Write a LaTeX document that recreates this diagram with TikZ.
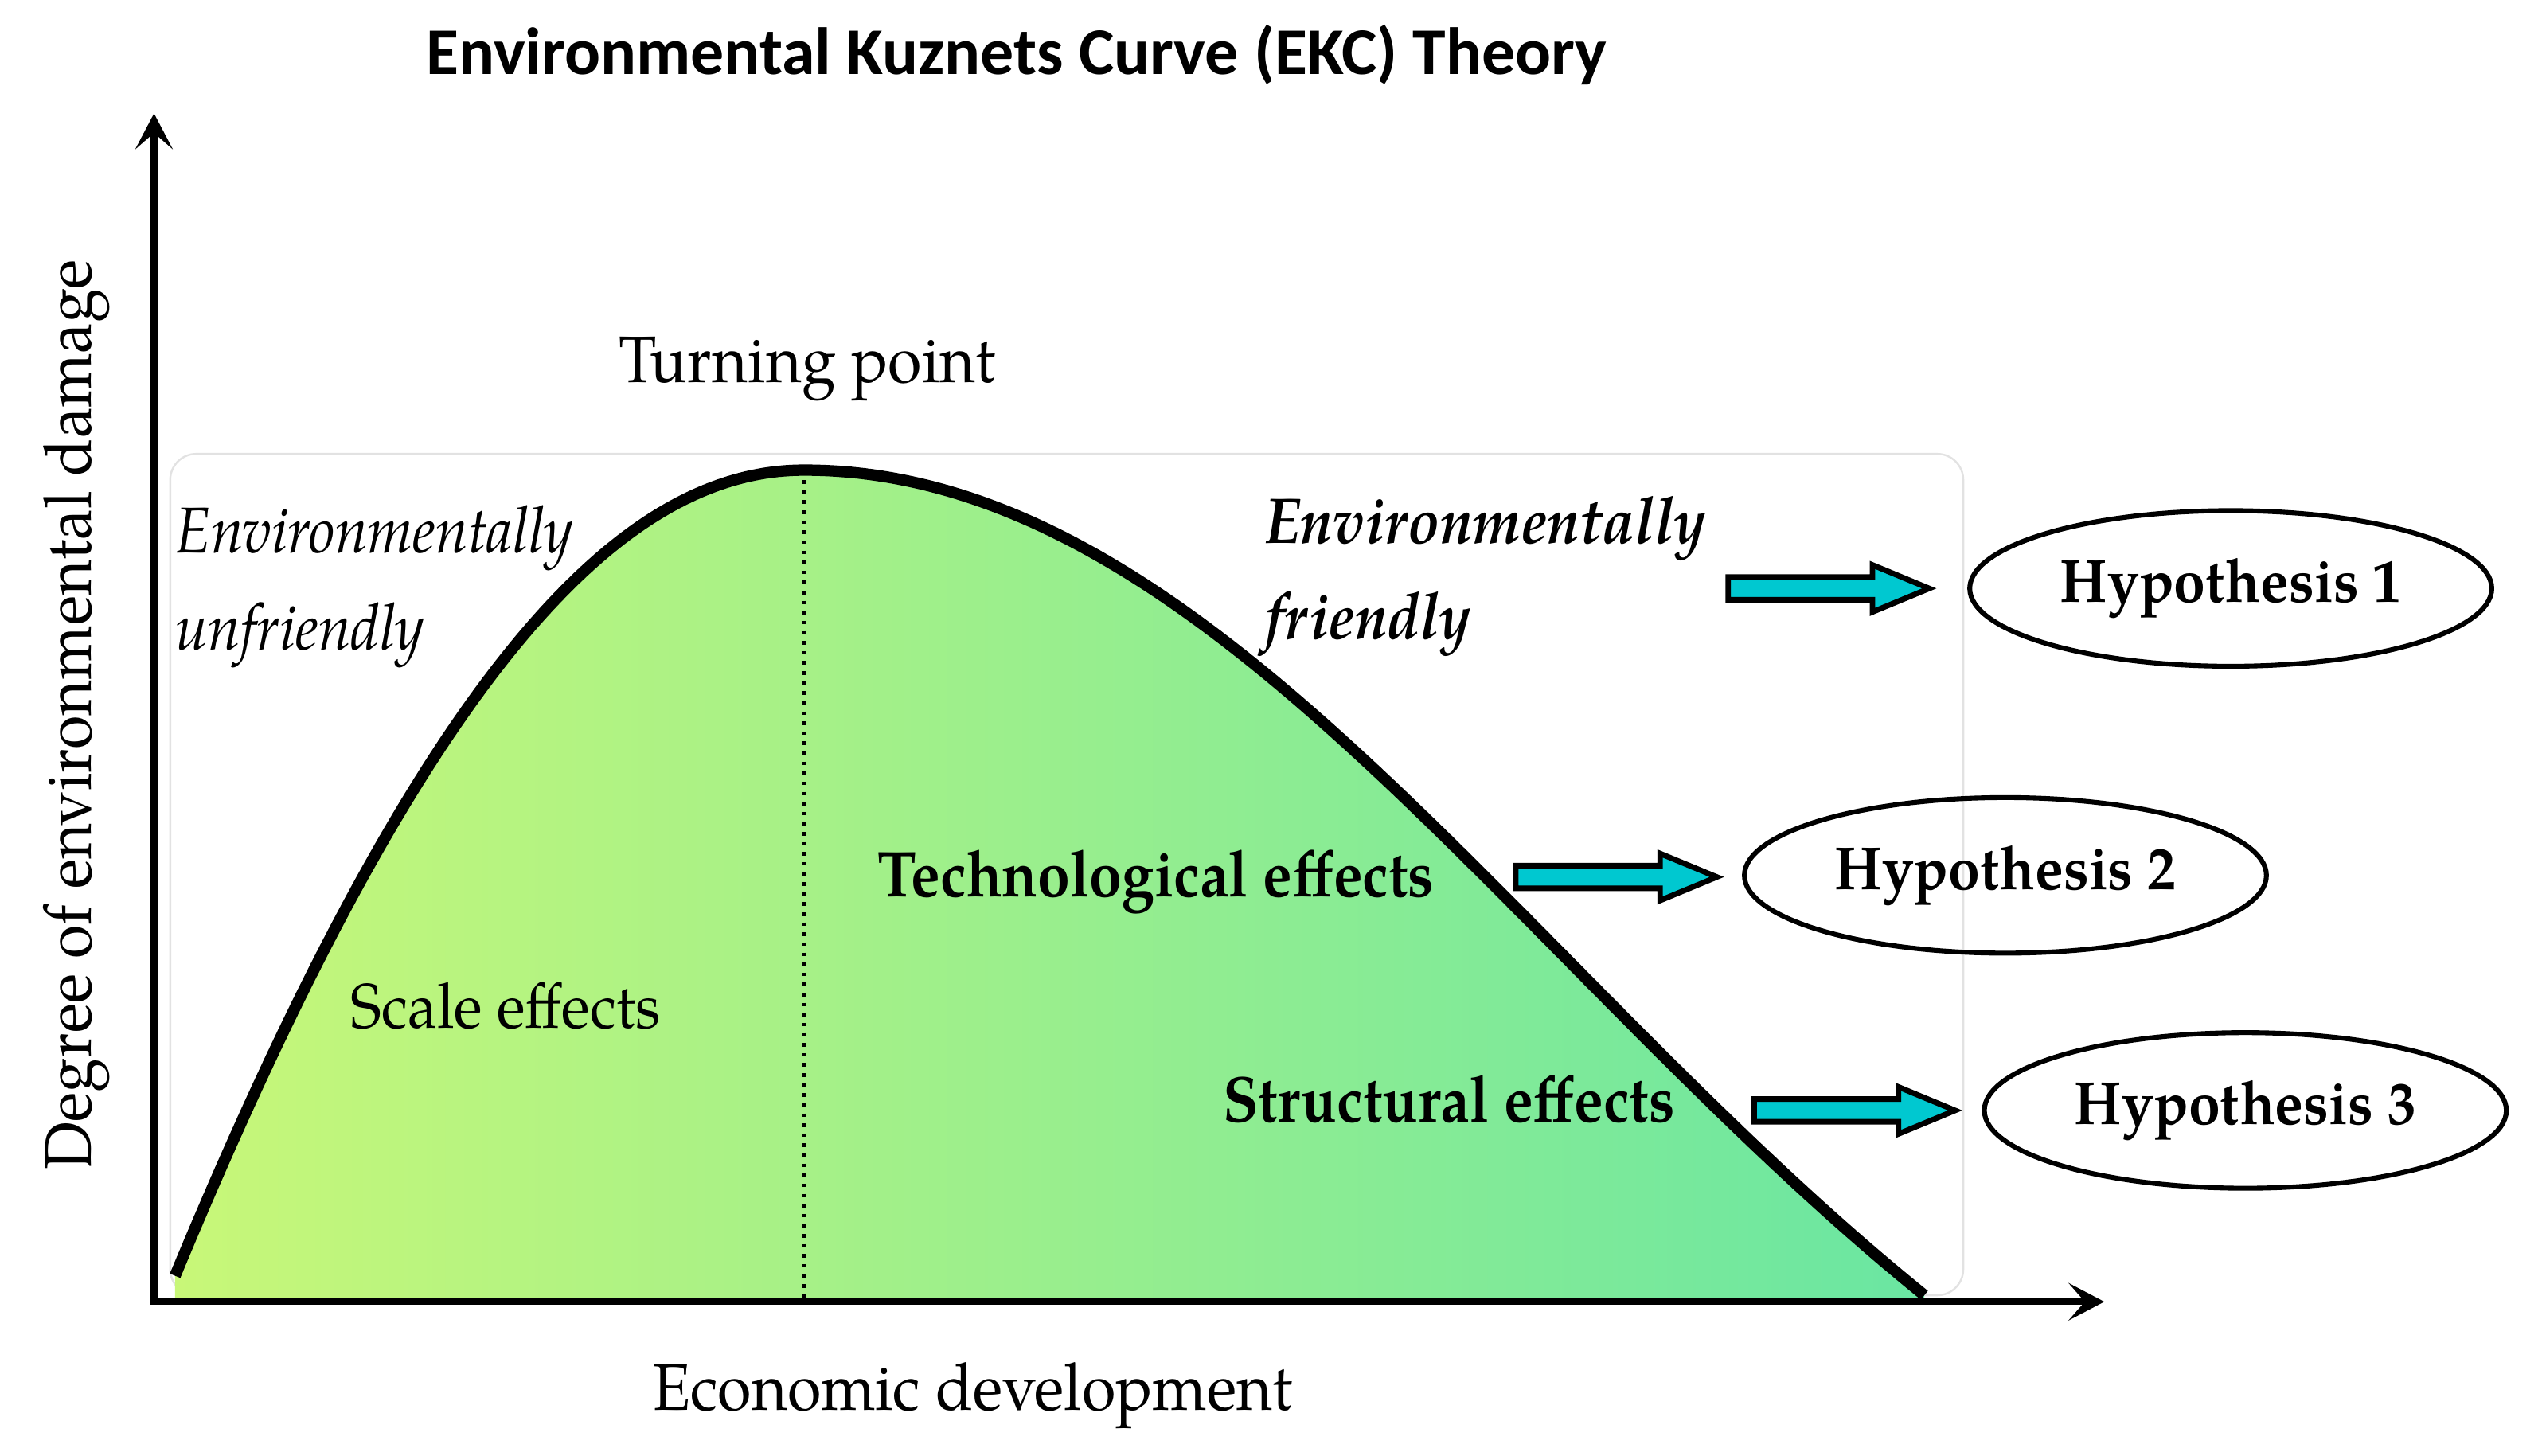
\documentclass[tikz,border=0pt]{standalone}
\usepackage{fontspec}
\setmainfont{TeX Gyre Pagella}
\newfontfamily\regf[FakeStretch=0.935]{TeX Gyre Pagella}
\newfontfamily\narf[FakeStretch=0.9]{TeX Gyre Pagella}
\newfontfamily\titlefont{Carlito}
\usetikzlibrary{shapes.geometric,arrows.meta}
\definecolor{limeL}{HTML}{C8F778}
\definecolor{greenM}{HTML}{A8F190}
\definecolor{greenR}{HTML}{6AE6A2}
\definecolor{arrowcyan}{HTML}{00C8D0}
\definecolor{framegray}{HTML}{E2E2E2}
\begin{document}
\begin{tikzpicture}[x=0.5pt,y=-0.5pt,
  txt/.style={font=\regf\fontsize{20.3}{24}\selectfont, inner sep=0pt},
  emtxt/.style={font=\narf\fontsize{20}{24}\selectfont, inner sep=0pt},
  titletxt/.style={font=\titlefont\bfseries\fontsize{20.6}{24}\selectfont, inner sep=0pt},
  hyp/.style={ellipse, draw, line width=1.5pt, minimum width=161pt, minimum height=48pt,
    inner sep=0pt, font=\regf\bfseries\fontsize{18.8}{22}\selectfont},
  axisline/.style={line width=2pt, line join=miter,
    {Stealth[length=11pt,width=11.5pt,inset=5pt]}-{Stealth[length=11pt,width=11.5pt,inset=5pt]}},
  ekc/.style={line width=3.5pt},
  hyparrow/.pic={\draw[line width=1.7pt, fill=arrowcyan, line join=miter]
    (0,-7) -- (89,-7) -- (89,-14.5) -- (124,0) -- (89,14.5) -- (89,7) -- (0,7) -- cycle;}
]
\useasboundingbox (0,0) rectangle (1568,898);
\coordinate (O) at (95,803);
\coordinate (ytip) at (95,70);
\coordinate (xtip) at (1298,803);
\coordinate (cs) at (108,787);
\coordinate (pk) at (496,290);
\coordinate (ce) at (1187,799);
\coordinate (pkb) at (496,803);

% light frame
\draw[framegray, line width=0.6pt, rounded corners=8pt] (105,280) rectangle (1211,799);

% shaded area under the curve
\path[left color=limeL, middle color=greenM, right color=greenR]
  (cs) .. controls (260,420) and (380,290) .. (pk)
       .. controls (746,290) and (937,597) .. (ce)
  -- (1187,802) -- (108,802) -- cycle;

% turning point line
\draw[dotted, line width=1.1pt] (pk) -- (pkb);

% curve
\draw[ekc] (cs) .. controls (260,420) and (380,290) .. (pk)
       .. controls (746,290) and (937,597) .. (ce);

% axes
\draw[axisline] (ytip) -- (O) -- (xtip);

% title
\node[titletxt, anchor=base] (title) at (627,46) {Environmental Kuznets Curve (EKC) Theory};

% labels
\node[txt, anchor=base] (tp) at (498,236) {Turning point};
\node[txt, anchor=base] (ed) at (600,870) {Economic development};
\node[txt, anchor=base, rotate=90] (yl) at (56,441) {Degree of environmental damage};
\node[emtxt, anchor=base west] (eu1) at (108,341) {\itshape Environmentally};
\node[emtxt, anchor=base west] (eu2) at (108,401) {\itshape unfriendly};
\node[emtxt, anchor=base west] (ef1) at (780,335) {\bfseries\itshape Environmentally};
\node[emtxt, anchor=base west] (ef2) at (780,394) {\bfseries\itshape friendly};
\node[emtxt, anchor=base west] (te) at (541,553) {\bfseries Technological effects};
\node[txt, anchor=base west, font=\regf\fontsize{19.4}{23}\selectfont] (se) at (216,634) {Scale effects};
\node[emtxt, anchor=base west] (st) at (754,692) {\bfseries Structural effects};

% hypotheses
\node[hyp] (h1) at (1376,363) {Hypothesis 1};
\node[hyp] (h2) at (1237,540) {Hypothesis 2};
\node[hyp] (h3) at (1385,685) {Hypothesis 3};

% arrows
\pic at (1066,363) {hyparrow};
\pic at (935,541) {hyparrow};
\pic at (1082,685) {hyparrow};
\end{tikzpicture}
\end{document}
